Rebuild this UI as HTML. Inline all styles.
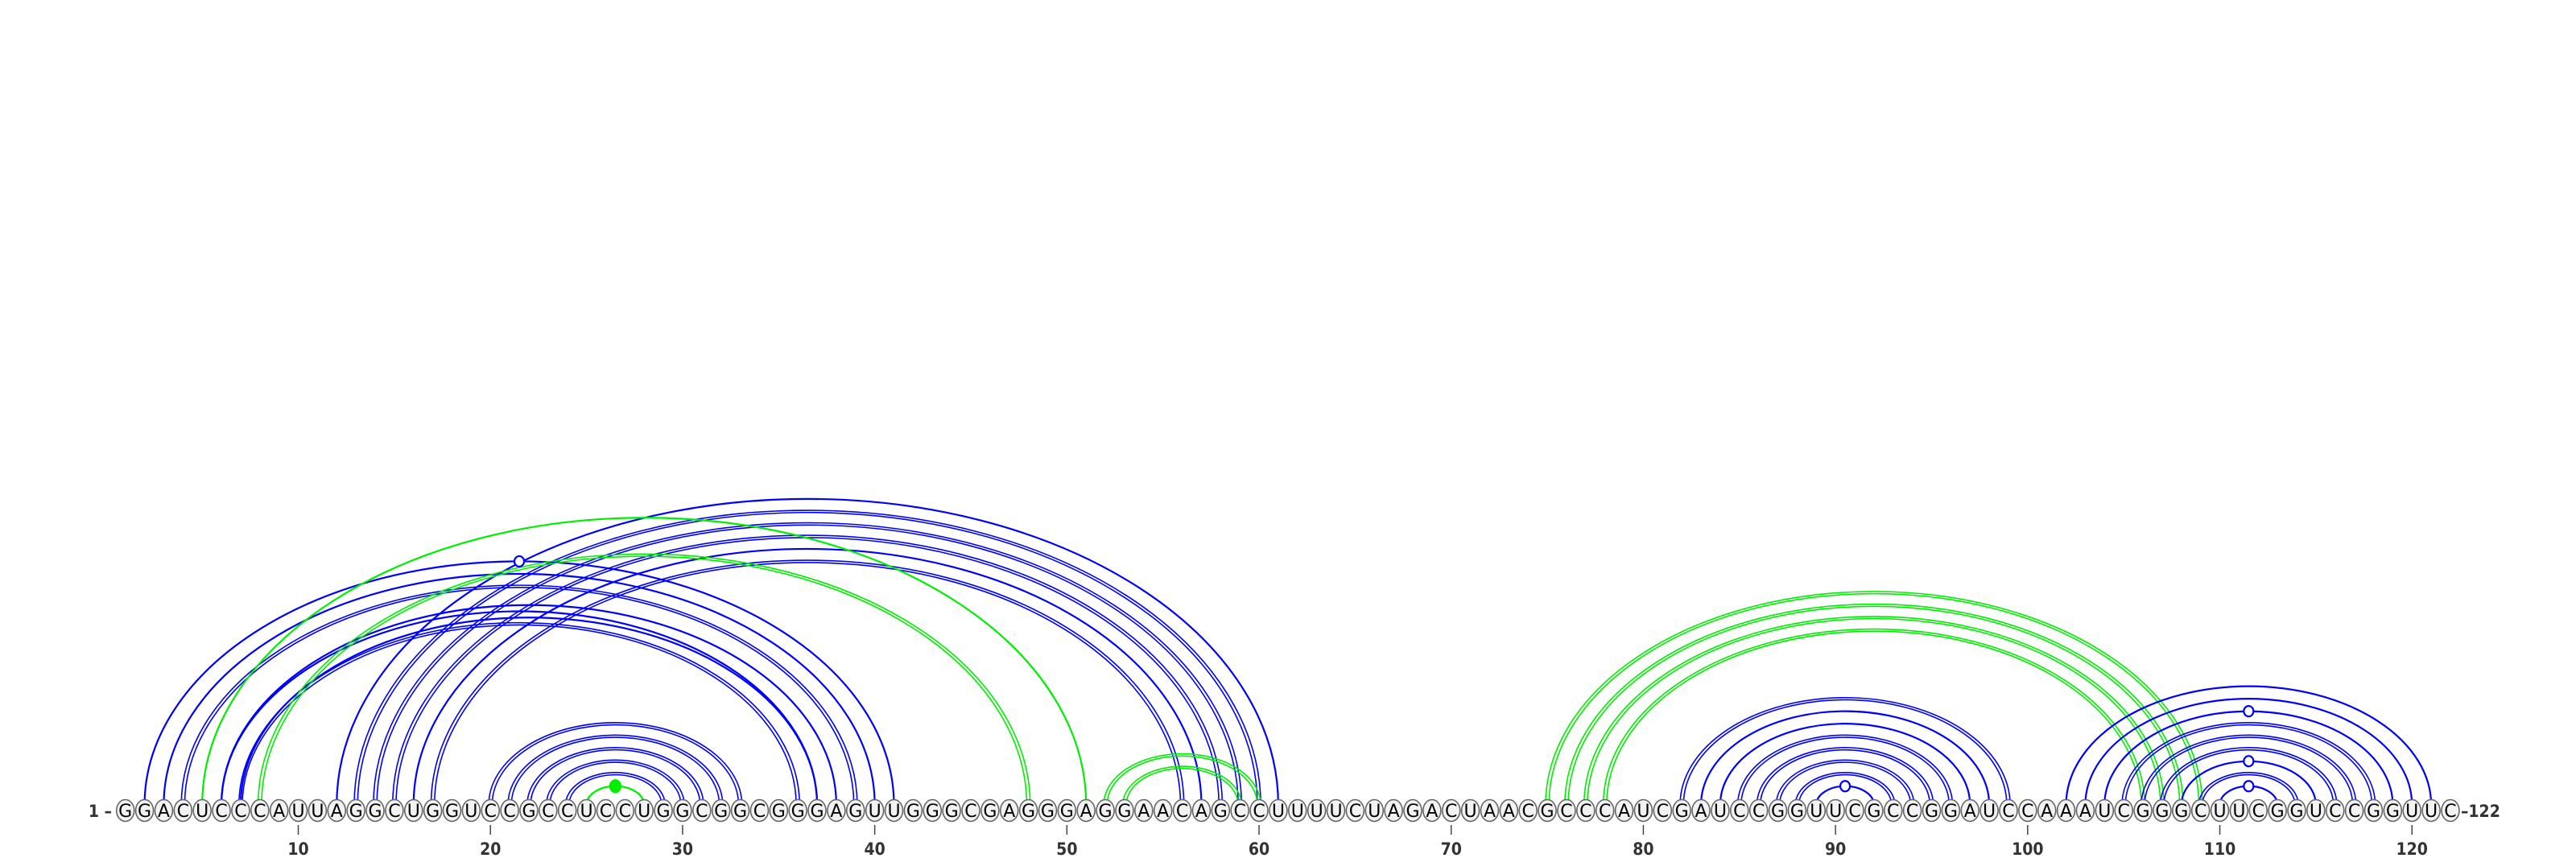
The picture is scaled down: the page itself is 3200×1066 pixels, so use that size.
<!DOCTYPE html>
<html><head><meta charset="utf-8"><style>
html,body{margin:0;padding:0;background:#fff;}
svg{display:block;}
</style></head><body>
<svg id="chart" xmlns="http://www.w3.org/2000/svg" width="3200" height="1066" viewBox="0 0 3200 1066">
<rect x="0" y="0" width="3200" height="1066" fill="#fff"/>
<g id="arcs"></g>
<g id="markers"></g>
<g id="nts"></g>
<g id="axis"></g>
</svg>
<script>
const sequence = "GGACUCCCAUUAGGCUGGUCCGCCUCCUGGCGGCGGGAGUUGGGCGAGGGAGGAACAGCCUUUUCUAGACUAACGCCCAUCGAUCCGGUUCGCCGGAUCCAAAUCGGGCUUCGGUCCGGUUC";
const pairStart = [2,3,4,6,6,7,7, 12,13,14,15,16,17, 20,21,22,23,24, 25, 5,8, 52,53, 75,76,77,78, 82,83,84,85,86,87,88,89, 102,103,104,105,106,107,108,109,110];
const pairEnd   = [41,40,39,38,37,37,36, 61,60,59,58,57,56, 33,32,31,30,29, 28, 51,48, 60,59, 109,108,107,106, 99,98,97,96,95,94,93,92, 121,120,119,118,117,116,115,114,113];
const pairColor = ["b","b","b","b","b","b","b", "b","b","b","b","b","b", "b","b","b","b","b", "g", "g","g", "g","g", "g","g","g","g", "b","b","b","b","b","b","b","b", "b","b","b","b","b","b","b","b","b"];
const pairLines = [1,1,2,1,1,1,2, 1,2,2,2,1,2, 2,2,2,2,2, 1, 1,2, 2,2, 2,2,2,2, 2,1,1,2,2,2,2,1, 1,1,1,2,2,2,1,2,1];
const markerStart = [2,89,104,108,110,25];
const markerEnd   = [41,92,119,115,113,28];
const markerFilled = [0,0,0,0,0,1];
const tickValues = [10,20,30,40,50,60,70,80,90,100,110,120];

const NS = "http://www.w3.org/2000/svg";
const X0 = 155.7, DX = 23.87, BASE = 1000, NY = 1007, RATIO = 0.65;
const xPos = i => X0 + (i - 1) * DX;
const COLORS = {b: "#0000ff", g: "#00ee00"};
function mk(tag, attrs, parent) {
  const el = document.createElementNS(NS, tag);
  for (const k in attrs) el.setAttribute(k, attrs[k]);
  parent.appendChild(el);
  return el;
}
const arcs = document.getElementById("arcs");
pairStart.forEach((s, k) => {
  const e = pairEnd[k];
  const offs = pairLines[k] === 2 ? [-2.1, 2.1] : [0];
  offs.forEach(o => {
    const x1 = xPos(s) - o, x2 = xPos(e) + o;
    const rx = (x2 - x1) / 2, ry = rx * RATIO;
    const p = mk("path", {d: `M${x1} ${BASE} A${rx} ${ry} 0 0 1 ${x2} ${BASE}`, fill: "none", stroke: COLORS[pairColor[k]], "stroke-width": pairLines[k] === 2 ? 1.6 : 2.2}, arcs);
    
    
  });
});
const markers = document.getElementById("markers");
markerStart.forEach((s, k) => {
  const e = markerEnd[k];
  const cx = (xPos(s) + xPos(e)) / 2, rx = (xPos(e) - xPos(s)) / 2;
  const cy = BASE - rx * RATIO;
  const filled = markerFilled[k] === 1;
  const c = mk("ellipse", {cx: cx, cy: cy, rx: filled ? 6.5 : 6, ry: filled ? 7.5 : 6.5, fill: filled ? "#00ee00" : "#fff", stroke: filled ? "#00ee00" : "#0000ff", "stroke-width": 2.2}, markers);
  
  
});
const nts = document.getElementById("nts");
for (let i = 1; i <= sequence.length; i++) {
  const g = mk("g", {}, nts);
  
  
  mk("ellipse", {cx: xPos(i), cy: NY, rx: 11, ry: 13.5, fill: "#f2f2f2", stroke: "#666", "stroke-width": 1.6}, g);
  const t = mk("text", {x: xPos(i), y: NY + 8, "text-anchor": "middle", "font-family": "DejaVu Sans, Liberation Sans, sans-serif", "font-size": 22, fill: "#000"}, g);
  t.textContent = sequence[i - 1];
}
const axis = document.getElementById("axis");
tickValues.forEach(v => {
  const l = mk("line", {x1: xPos(v), x2: xPos(v), y1: 1025, y2: 1037, stroke: "#444", "stroke-width": 1.5}, axis);
  
  
  const t = mk("text", {x: xPos(v), y: 1062, "text-anchor": "middle", "font-family": "DejaVu Sans Condensed, DejaVu Sans, Liberation Sans, sans-serif", "font-size": 21, "font-weight": "bold", fill: "#333"}, axis);
  
  
  t.textContent = v;
});
const startLbl = mk("text", {x: 139, y: 1015, "text-anchor": "end", "font-family": "DejaVu Sans Condensed, DejaVu Sans, Liberation Sans, sans-serif", "font-size": 21, "font-weight": "bold", fill: "#333"}, axis);


startLbl.textContent = "1 \u2013";
const endLbl = mk("text", {x: xPos(122) + 13, y: 1015, "text-anchor": "start", "font-family": "DejaVu Sans Condensed, DejaVu Sans, Liberation Sans, sans-serif", "font-size": 21, "font-weight": "bold", fill: "#333"}, axis);


endLbl.textContent = "\u2013122";
</script>
</body></html>
